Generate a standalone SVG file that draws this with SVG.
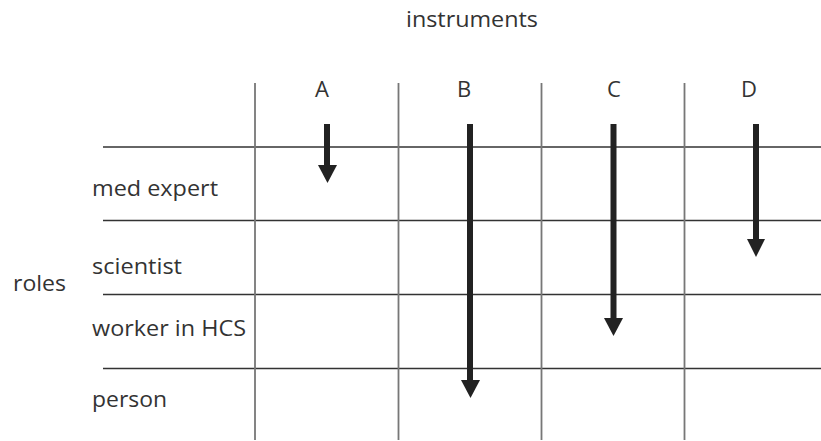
<svg xmlns="http://www.w3.org/2000/svg" width="821" height="441" viewBox="0 0 821 441">
<style>
text{font-family:"Open Sans","Noto Sans","DejaVu Sans",sans-serif;font-size:22px;fill:#333}
.h{stroke:#333;stroke-width:1.5}
.v{stroke:#777;stroke-width:1.8}
.arr{stroke:#222;stroke-width:6}
.head{fill:#222}
</style>
<rect width="821" height="441" fill="#fff"/>
<g id="grid">
<line class="h" x1="103" y1="147" x2="821" y2="147"/>
<line class="h" x1="103" y1="220.5" x2="821" y2="220.5"/>
<line class="h" x1="103" y1="294.5" x2="821" y2="294.5"/>
<line class="h" x1="103" y1="368.5" x2="821" y2="368.5"/>
<line class="v" x1="255" y1="83" x2="255" y2="440"/>
<line class="v" x1="398.5" y1="83" x2="398.5" y2="440"/>
<line class="v" x1="541.5" y1="83" x2="541.5" y2="440"/>
<line class="v" x1="684.5" y1="83" x2="684.5" y2="440"/>
</g>
<g id="title"><text x="472" y="27" text-anchor="middle" textLength="132" lengthAdjust="spacingAndGlyphs">instruments</text></g>
<g id="cols">
<text x="322" y="97" text-anchor="middle">A</text>
<text x="464" y="97" text-anchor="middle">B</text>
<text x="614" y="97" text-anchor="middle">C</text>
<text x="749" y="97" text-anchor="middle">D</text>
</g>
<g id="rows">
<text x="13" y="291" textLength="53" lengthAdjust="spacingAndGlyphs">roles</text>
<text x="92" y="196" textLength="126" lengthAdjust="spacingAndGlyphs">med expert</text>
<text x="92" y="274" textLength="90" lengthAdjust="spacingAndGlyphs">scientist</text>
<text x="92" y="336" textLength="154" lengthAdjust="spacingAndGlyphs">worker in HCS</text>
<text x="92" y="407" textLength="75" lengthAdjust="spacingAndGlyphs">person</text>
</g>
<g id="connectors">
<line class="arr" x1="327" y1="124" x2="327" y2="167"/>
<polygon class="head" points="318,165 337,165 327.5,183"/>
<line class="arr" x1="470" y1="124" x2="470" y2="382"/>
<polygon class="head" points="461,380 480,380 470.5,398"/>
<line class="arr" x1="613.5" y1="124" x2="613.5" y2="320"/>
<polygon class="head" points="604,318 623,318 613.5,336"/>
<line class="arr" x1="756" y1="124" x2="756" y2="241"/>
<polygon class="head" points="747,239 765,239 756,257"/>
</g>
</svg>
